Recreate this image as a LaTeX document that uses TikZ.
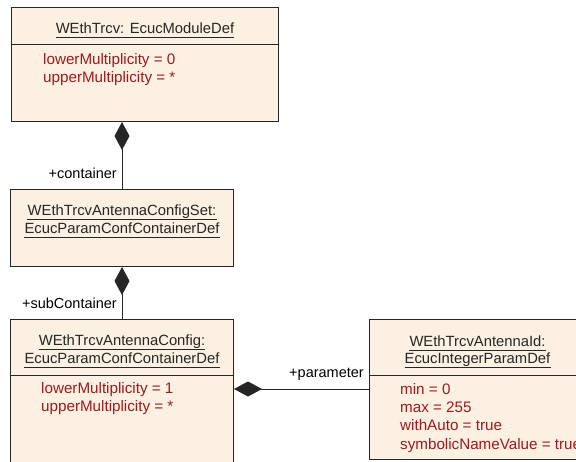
\documentclass[tikz,border=0pt]{standalone}
\usepackage{fontspec}
\setmainfont{Liberation Sans}
\usetikzlibrary{arrows.meta}

\definecolor{umlfill}{RGB}{251,240,225}
\definecolor{umlred}{RGB}{160,25,30}

\tikzset{
  umlbox/.style={draw=black!85, line width=1pt, fill=umlfill, anchor=north west, inner sep=0pt},
  umltitle/.style={anchor=base, inner sep=0pt, text=black!85, font=\fontsize{14.8}{18}\selectfont},
  umlattr/.style={anchor=base west, inner sep=0pt, text=umlred, font=\fontsize{15.2}{18}\selectfont},
  role/.style={anchor=base east, inner sep=0pt},
  uline/.style={line width=0.8pt, black!85},
  comp/.style={line width=1pt, black!85, {Diamond[length=28pt, width=15pt]}-},
}

\begin{document}
\begin{tikzpicture}[x=1pt, y=-1pt, font=\fontsize{14.5}{18}\selectfont]
    \useasboundingbox (0,0) rectangle (576,461);

    % class boxes
    \node[umlbox, minimum width=267pt, minimum height=114pt] (mod) at (11,7) {};
    \node[umlbox, minimum width=223pt, minimum height=77pt] (set) at (10,189) {};
    \node[umlbox, minimum width=223pt, minimum height=170pt] (cfg) at (10,319) {};
    \node[umlbox, minimum width=216pt, minimum height=140pt] (id) at (369,319) {};

    % compartment lines
    \draw[line width=1pt, black!85] (mod.west |- 0,44) -- (mod.east |- 0,44);
    \draw[line width=1pt, black!85] (cfg.west |- 0,375) -- (cfg.east |- 0,375);
    \draw[line width=1pt, black!85] (id.west |- 0,375) -- (id.east |- 0,375);

    % names
    \node[umltitle] (modname) at (mod.north |- 0,33) {WEthTrcv: EcucModuleDef};
    \node[umltitle] (setname1) at (set.north |- 0,215) {WEthTrcvAntennaConfigSet:};
    \node[umltitle] (setname2) at (set.north |- 0,233) {EcucParamConfContainerDef};
    \node[umltitle] (cfgname1) at (cfg.north |- 0,345) {WEthTrcvAntennaConfig:};
    \node[umltitle] (cfgname2) at (cfg.north |- 0,363) {EcucParamConfContainerDef};
    \node[umltitle] (idname1) at (id.north |- 0,346) {WEthTrcvAntennaId:};
    \node[umltitle] (idname2) at (id.north |- 0,363) {EcucIntegerParamDef};
    \foreach \n in {modname, setname1, setname2, cfgname1, cfgname2, idname1, idname2}
        \draw[uline] ([yshift=-4pt]\n.base west) -- ([yshift=-4pt]\n.base east);

    % attributes
    \foreach \txt [count=\i] in {lowerMultiplicity = 0, upperMultiplicity = *}
        \node[umlattr] (modattr\i) at (43, 46+18*\i) {\txt};
    \foreach \txt [count=\i] in {lowerMultiplicity = 1, upperMultiplicity = *}
        \node[umlattr] (cfgattr\i) at (41, 375+18*\i) {\txt};
    \foreach \txt [count=\i] in {min = 0, max = 255, withAuto = true, symbolicNameValue = true}
        \node[umlattr] (idattr\i) at (400, 376+18.3*\i) {\txt};

    % compositions
    \draw[comp] (set.north |- mod.south) -- (set.north);
    \draw[comp] (cfg.north |- set.south) -- (cfg.north);
    \coordinate (pstart) at (cfg.east |- 0,389);
    \coordinate (pend) at (pstart -| id.west);
    \draw[comp] (pstart) -- (pend);

    % role names
    \node[role] (controle) at ([xshift=-5pt, yshift=11pt]set.north) {+container};
    \node[role] (subrole) at ([xshift=-5pt, yshift=11pt]cfg.north) {+subContainer};
    \node[role] (paramrole) at ([xshift=-5pt, yshift=12pt]pend) {+parameter};
\end{tikzpicture}
\end{document}
